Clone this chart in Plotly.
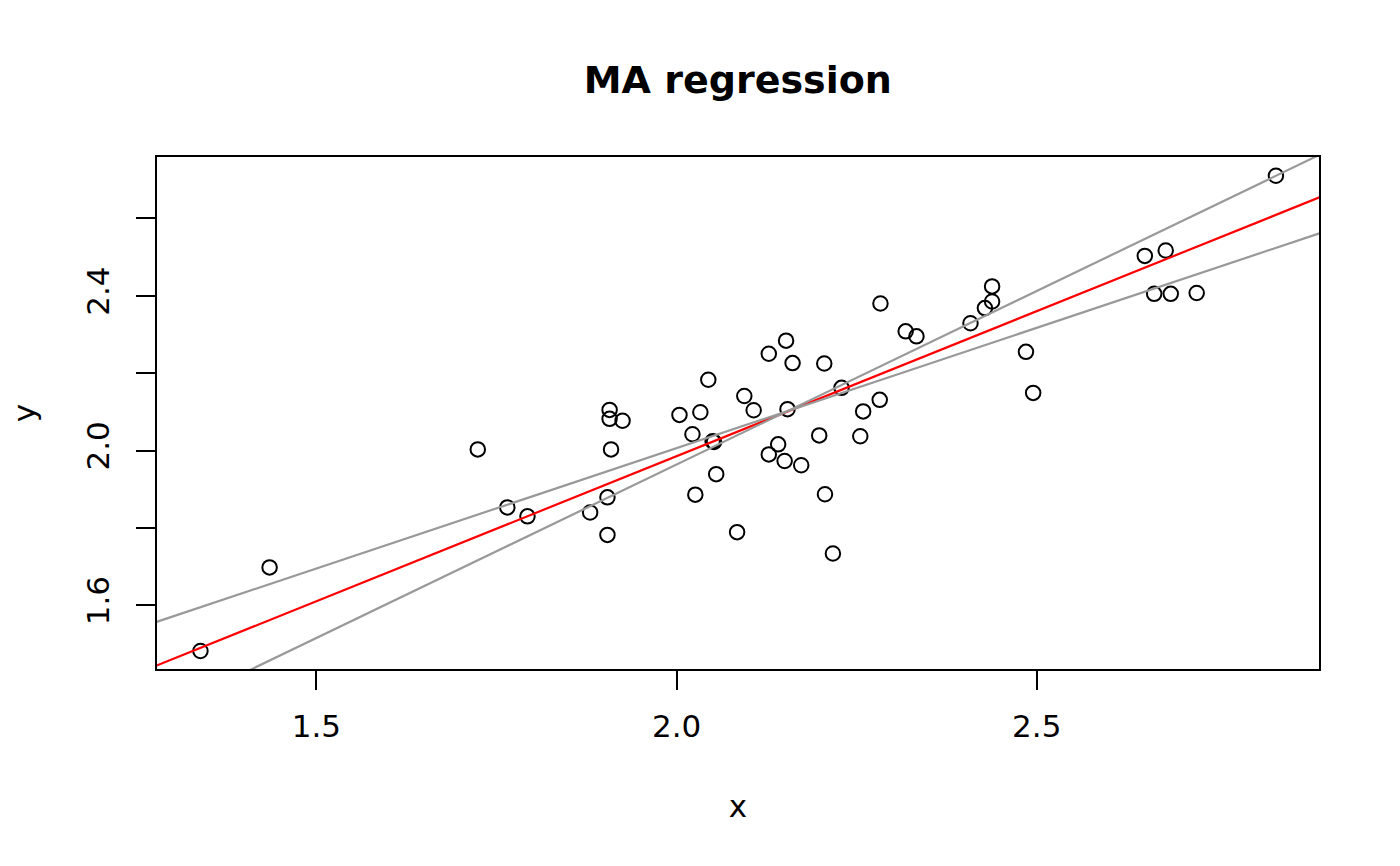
import plotly.graph_objects as go

# ---- data ----
x_vals = [1.339, 1.435, 1.724, 1.765, 1.793, 1.880, 1.904, 1.904, 1.909, 1.907,
          1.907, 1.925, 2.004, 2.033, 2.044, 2.022, 2.052, 2.050, 2.055, 2.026,
          2.084, 2.094, 2.107, 2.128, 2.152, 2.161, 2.205, 2.154, 2.229, 2.141,
          2.128, 2.150, 2.173, 2.198, 2.206, 2.217, 2.259, 2.282, 2.255, 2.283,
          2.318, 2.333, 2.408, 2.428, 2.438, 2.438, 2.485, 2.495, 2.650, 2.679,
          2.663, 2.686, 2.722, 2.832]
y_vals = [1.482, 1.698, 2.003, 1.853, 1.830, 1.840, 1.879, 1.782, 2.003, 2.105,
          2.082, 2.077, 2.092, 2.099, 2.183, 2.042, 2.022, 2.024, 1.939, 1.886,
          1.789, 2.141, 2.104, 2.250, 2.284, 2.226, 2.225, 2.107, 2.162, 2.016,
          1.990, 1.973, 1.962, 2.039, 1.887, 1.734, 2.101, 2.131, 2.037, 2.380,
          2.308, 2.295, 2.329, 2.368, 2.385, 2.424, 2.255, 2.149, 2.503, 2.517,
          2.405, 2.405, 2.407, 2.710]

# MA fit and confidence-interval lines: (intercept, slope)
ma_line = (0.4864, 0.7495)
ci_lower_slope_line = (0.7622, 0.6220)
ci_upper_slope_line = (0.1705, 0.8967)

x_range = [1.2787, 2.8918]
y_range = [1.4355, 2.7585]

x_tickvals = [1.5, 2.0, 2.5]
x_ticktext = ["1.5", "2.0", "2.5"]
y_tickvals = [1.6, 1.8, 2.0, 2.2, 2.4, 2.6]
y_ticktext = ["1.6", "", "2.0", "", "2.4", ""]

FONT = "DejaVu Sans"


def line_trace(coef, color):
    a, b = coef
    xs = [x_range[0] - 0.1, x_range[1] + 0.1]
    ys = [a + b * v for v in xs]
    return go.Scatter(x=xs, y=ys, mode="lines",
                      line=dict(color=color, width=2.2),
                      hoverinfo="skip", showlegend=False)


fig = go.Figure()
fig.add_trace(go.Scatter(
    x=x_vals, y=y_vals, mode="markers",
    marker=dict(symbol="circle-open", size=14.5, color="black",
                line=dict(color="black", width=2)),
    showlegend=False))
fig.add_trace(line_trace(ma_line, "#ff0000"))
fig.add_trace(line_trace(ci_lower_slope_line, "#999999"))
fig.add_trace(line_trace(ci_upper_slope_line, "#999999"))

axis_common = dict(
    showgrid=False, zeroline=False,
    showline=True, linecolor="black", linewidth=1.7, mirror=True,
    ticks="outside", ticklen=19, tickwidth=1.7, tickcolor="black",
    tickfont=dict(family=FONT, size=31, color="black"),
    title_font=dict(family=FONT, size=31, color="black"),
)

fig.update_xaxes(range=x_range, tickmode="array", tickvals=x_tickvals,
                 ticktext=x_ticktext, title_text="x", title_standoff=52,
                 ticklabelstandoff=10, **axis_common)
fig.update_yaxes(range=y_range, tickmode="array", tickvals=y_tickvals,
                 ticktext=y_ticktext, tickangle=-90, title_text="y",
                 title_standoff=35, ticklabelstandoff=15, **axis_common)

fig.update_layout(
    width=1400, height=866,
    margin=dict(l=157, r=81, t=157, b=197, autoexpand=False),
    paper_bgcolor="white", plot_bgcolor="white",
    font=dict(family=FONT, color="black"),
    title=dict(text="<b>MA regression</b>", x=0.527, xanchor="center",
               y=1 - 80 / 866, yanchor="middle", yref="container",
               font=dict(family=FONT, size=38, color="black")),
)

fig.write_html("out.html", config={"displayModeBar": False},
               post_script="document.body.style.margin='0';")
